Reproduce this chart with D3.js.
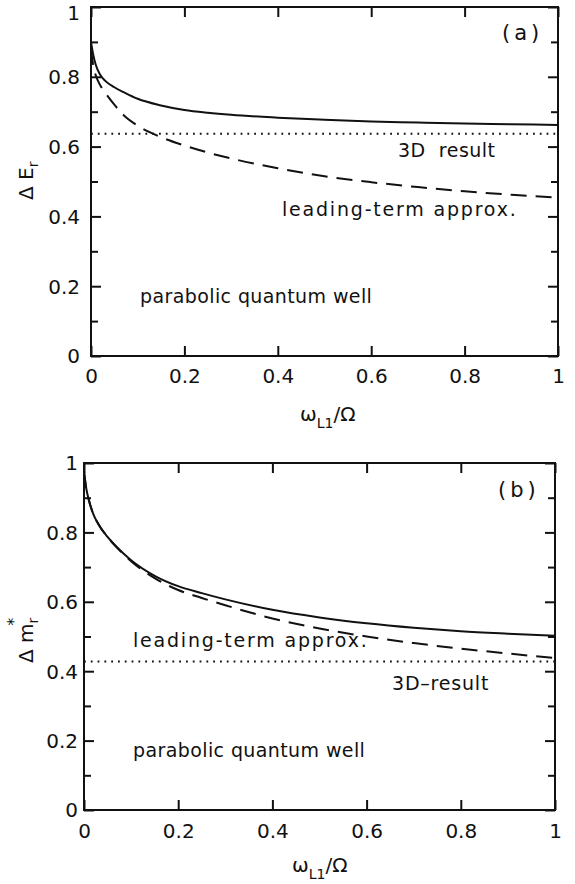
<!DOCTYPE html>
<html>
<head>
<meta charset="UTF-8">
<title>Delta E and Delta m</title>
<script src="https://d3js.org/d3.v7.min.js"></script>
<style>
  body { margin: 0; background: #fff; }
  svg { font-family: "DejaVu Sans", sans-serif; }
  text { white-space: pre; }
  .frame { fill: none; stroke: #111; stroke-width: 2px; }
  .tick line { stroke: #111; stroke-width: 2px; }
  .curve { fill: none; stroke: #111; stroke-width: 2px; }
</style>
</head>
<body>
<svg width="575" height="884"></svg>
<script>
// values
const omega = [0, 0.005, 0.01, 0.02, 0.03, 0.05, 0.07, 0.1, 0.15, 0.2, 0.25, 0.3, 0.4, 0.5, 0.6, 0.7, 0.8, 0.9, 1];
const exactA   = [0.90, 0.862, 0.835, 0.805, 0.789, 0.770, 0.756, 0.737, 0.718, 0.705, 0.697, 0.691, 0.683, 0.677, 0.672, 0.669, 0.666, 0.664, 0.662];
const leadingA = [0.88, 0.83, 0.805, 0.775, 0.755, 0.72, 0.69, 0.66, 0.627, 0.603, 0.583, 0.566, 0.538, 0.515, 0.498, 0.484, 0.472, 0.462, 0.454];
const result3dA = 0.637;
const exactB   = [0.975, 0.925, 0.895, 0.852, 0.825, 0.787, 0.757, 0.72, 0.675, 0.645, 0.625, 0.607, 0.577, 0.555, 0.538, 0.525, 0.515, 0.508, 0.502];
const leadingB = [0.975, 0.925, 0.895, 0.852, 0.825, 0.787, 0.756, 0.717, 0.668, 0.634, 0.611, 0.59, 0.552, 0.523, 0.50, 0.481, 0.465, 0.451, 0.438];
const result3dB = 0.428;
const xTicks = [0, 0.2, 0.4, 0.6, 0.8, 1];
const yTicks = [0, 0.2, 0.4, 0.6, 0.8, 1];
const yMinor = [0.1, 0.3, 0.5, 0.7, 0.9];

const svg = d3.select('svg');
const fmt = d => d === 0 || d === 1 ? String(d) : d3.format('.1f')(d);

function panel(o) {
  const x = d3.scaleLinear().domain([0, 1]).range([o.left, o.right]);
  const y = d3.scaleLinear().domain([0, 1]).range([o.bottom, o.top]);
  const g = svg.append('g');

  // minor y ticks on both sides
  g.append('g').attr('class', 'tick')
    .attr('transform', `translate(${o.left},0)`)
    .call(d3.axisRight(y).tickValues(yMinor).tickSize(7).tickFormat(''))
    .call(a => a.select('.domain').remove());
  g.append('g').attr('class', 'tick')
    .attr('transform', `translate(${o.right},0)`)
    .call(d3.axisLeft(y).tickValues(yMinor).tickSize(7).tickFormat(''))
    .call(a => a.select('.domain').remove());

  // major ticks, inward
  const yl = g.append('g')
    .attr('transform', `translate(${o.left},0)`)
    .call(d3.axisRight(y).tickValues(yTicks).tickSize(10).tickFormat(fmt));
  yl.select('.domain').remove();
  yl.selectAll('line').attr('stroke', '#111').attr('stroke-width', 2);
  yl.selectAll('text').attr('x', o.ylabGap).attr('text-anchor', 'end')
    .attr('font-size', 20).attr('fill', '#111').attr('font-family', 'DejaVu Sans')
    .attr('dy', d => d === 1 && o.top < 10 ? '0.62em' : '0.34em');

  const yr = g.append('g')
    .attr('transform', `translate(${o.right},0)`)
    .call(d3.axisLeft(y).tickValues(yTicks).tickSize(10).tickFormat(''));
  yr.select('.domain').remove();
  yr.selectAll('line').attr('stroke', '#111').attr('stroke-width', 2);

  const xb = g.append('g')
    .attr('transform', `translate(0,${o.bottom})`)
    .call(d3.axisTop(x).tickValues(xTicks).tickSize(10).tickFormat(fmt));
  xb.select('.domain').remove();
  xb.selectAll('line').attr('stroke', '#111').attr('stroke-width', 2);
  xb.selectAll('text').attr('y', o.xlabY).attr('dy', 0)
    .attr('font-size', 20).attr('fill', '#111').attr('font-family', 'DejaVu Sans');

  const xt = g.append('g')
    .attr('transform', `translate(0,${o.top})`)
    .call(d3.axisBottom(x).tickValues(xTicks).tickSize(10).tickFormat(''));
  xt.select('.domain').remove();
  xt.selectAll('line').attr('stroke', '#111').attr('stroke-width', 2);

  g.append('rect').attr('class', 'frame')
    .attr('x', o.left).attr('y', o.top)
    .attr('width', o.right - o.left).attr('height', o.bottom - o.top);

  // curves
  const line = d3.line().x((d, i) => x(omega[i])).y(d => y(d)).curve(d3.curveMonotoneX);
  g.append('path').attr('class', 'curve').attr('d', line(o.exact));
  g.append('path').attr('class', 'curve').attr('d', line(o.leading))
    .attr('stroke-dasharray', '16,9');
  g.append('line').attr('class', 'curve')
    .attr('x1', x(0)).attr('x2', x(1)).attr('y1', y(o.r3d)).attr('y2', y(o.r3d))
    .attr('stroke-width', 1.8).attr('stroke-dasharray', '1.8,5');

  // annotations: [x, y, text, size, letter-spacing]
  o.notes.forEach(n => g.append('text').attr('x', n[0]).attr('y', n[1])
    .attr('font-size', n[3]).attr('letter-spacing', n[4]).attr('fill', '#111').text(n[2]));

  // x title
  const xtitle = g.append('text').attr('x', o.xtX).attr('y', o.xtY)
    .attr('font-size', 20).attr('fill', '#111');
  xtitle.append('tspan').text('ω');
  xtitle.append('tspan').attr('dy', 7).attr('font-size', 14).text('L1');
  xtitle.append('tspan').attr('dy', -7).text('/Ω');

  // y title
  const ytitle = g.append('text')
    .attr('transform', `translate(${o.ytX},${o.ytY}) rotate(-90)`)
    .attr('font-size', 20).attr('fill', '#111');
  ytitle.append('tspan').text('Δ ' + o.ySym);
  ytitle.append('tspan').attr('dy', 5).attr('font-size', 14).text('r');
  if (o.star) {
    ytitle.append('tspan').attr('dx', -8).attr('dy', -19).attr('font-size', 16).text('*');
  }
}

panel({
  left: 91, right: 558, top: 7, bottom: 356,
  ylabGap: -11, xlabY: 27,
  exact: exactA, leading: leadingA, r3d: result3dA,
  notes: [[502, 40, '(a)', 21, 4], [398, 157, '3D  result', 19, 0.5],
          [282, 216, 'leading-term approx.', 19, 1.8], [140, 303, 'parabolic quantum well', 19, 0.4]],
  xtX: 300, xtY: 421, ytX: 33, ytY: 200, ySym: 'E', star: false
});

panel({
  left: 84, right: 555, top: 463, bottom: 810,
  ylabGap: -6, xlabY: 28,
  exact: exactB, leading: leadingB, r3d: result3dB,
  notes: [[498, 497, '(b)', 21, 4], [392, 690, '3D–result', 19, 0.8],
          [133, 647, 'leading-term approx.', 19, 1.8], [133, 757, 'parabolic quantum well', 19, 0.4]],
  xtX: 292, xtY: 872, ytX: 33, ytY: 663, ySym: 'm', star: true
});
</script>
</body>
</html>
